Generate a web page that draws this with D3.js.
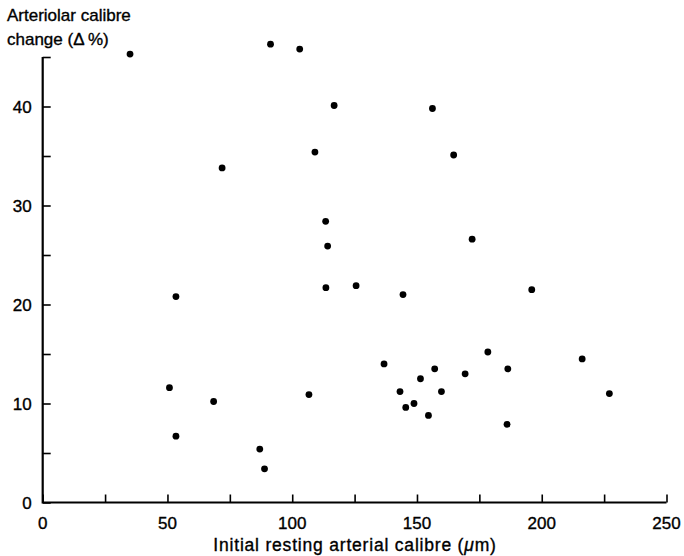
<!DOCTYPE html>
<html lang='en'>
	<head>
		<meta charset='UTF-8'>
		<title>Arteriolar calibre change</title>
		<style>
			body { margin: 0; background: #fff; }
			text { font-family: 'Liberation Sans', Arial, sans-serif; fill: #000; stroke: #000; stroke-width: 0.35px; }
		</style>
	</head>
	<body>
		<svg id='graph' width='684' height='556'></svg>

		<script src='https://d3js.org/d3.v7.min.js'></script>
		<script>
			// initial resting arterial calibre (um)
			const calibre = [35.0, 91.3, 103.0, 116.8, 109.1, 71.9, 113.4, 114.2, 53.4, 113.5,
				125.6, 50.8, 68.5, 106.7, 53.4, 87.0, 88.9, 156.2, 164.7, 172.1,
				144.4, 196.0, 178.4, 136.8, 157.1, 216.2, 169.3, 186.4, 151.4, 143.2,
				159.8, 227.1, 148.8, 145.5, 154.6, 186.1]
			// arteriolar calibre change (delta %)
			const change = [45.3, 46.3, 45.8, 40.1, 35.4, 33.8, 28.4, 25.9, 20.8, 21.7,
				21.9, 11.6, 10.2, 10.9, 6.7, 5.4, 3.4, 39.8, 35.1, 26.6,
				21.0, 21.5, 15.2, 14.0, 13.5, 14.5, 13.0, 13.5, 12.5, 11.2,
				11.2, 11.0, 10.0, 9.6, 8.8, 7.9]
			const xTicks = [0, 50, 100, 150, 200, 250]
			const yTicks = [0, 10, 20, 30, 40]

			const points = calibre.map((c, i) => ({ x: c, y: change[i] }))

			const svg = d3.select('#graph')

			const xScale = d3.scaleLinear()
				.domain([0, 250])
				.range([42.7, 666.5])
			const yScale = d3.scaleLinear()
				.domain([0, 40])
				.range([502.5, 106.5])

			// minor + major ticks drawn inward, no labels on minor
			const xAxis = d3.axisTop(xScale)
				.tickValues(d3.range(0, 251, 25))
				.tickSize(8)
				.tickFormat('')
			const yAxis = d3.axisRight(yScale)
				.tickValues(d3.range(0, 46, 5))
				.tickSize(8)
				.tickFormat('')

			const gx = svg.append('g')
				.attr('transform', `translate(0, ${yScale(0)})`)
				.call(xAxis)
			const gy = svg.append('g')
				.attr('transform', `translate(${xScale(0)}, 0)`)
				.call(yAxis)

			for (const g of [gx, gy]) {
				g.select('.domain').remove()
				g.selectAll('line').attr('stroke', '#000').attr('stroke-width', 1.6)
			}

			// axis lines
			svg.append('path')
				.attr('d', `M${xScale(0)},${yScale(45)}V${yScale(0)}H${xScale(250)}`)
				.attr('fill', 'none')
				.attr('stroke', '#000')
				.attr('stroke-width', 2.2)

			svg.append('g')
				.selectAll('text')
				.data(xTicks)
				.enter()
				.append('text')
				.attr('x', (d) => xScale(d))
				.attr('y', yScale(0) + 26)
				.attr('text-anchor', 'middle')
				.attr('font-size', 17)
				.text((d) => d)

			svg.append('g')
				.selectAll('text')
				.data(yTicks)
				.enter()
				.append('text')
				.attr('x', xScale(0) - 11)
				.attr('y', (d) => yScale(d) + 6)
				.attr('text-anchor', 'end')
				.attr('font-size', 17)
				.text((d) => d)

			svg.selectAll('circle')
				.data(points)
				.enter()
				.append('circle')
				.attr('cx', (p) => xScale(p.x))
				.attr('cy', (p) => yScale(p.y))
				.attr('r', 3.4)
				.attr('fill', '#000')

			const xTitle = svg.append('text')
				.attr('x', 355)
				.attr('y', 551)
				.attr('text-anchor', 'middle')
				.attr('font-size', 17.5)
				.attr('letter-spacing', 0.8)
			xTitle.append('tspan').text('Initial resting arterial calibre (')
			xTitle.append('tspan').attr('font-style', 'italic').text('μ')
			xTitle.append('tspan').text('m)')

			svg.append('text')
				.attr('x', 7)
				.attr('y', 21)
				.attr('font-size', 17)
				.text('Arteriolar calibre')
			svg.append('text')
				.attr('x', 7)
				.attr('y', 45)
				.attr('font-size', 17)
				.text('change (Δ\u2009%)')
		</script>
	</body>
</html>
